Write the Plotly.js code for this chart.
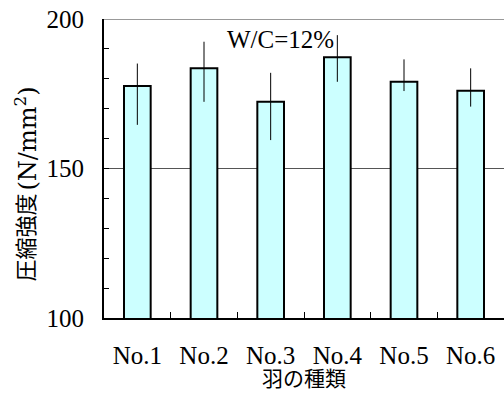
<!DOCTYPE html>
<html>
<head>
<meta charset="utf-8">
<script src="https://cdn.plot.ly/plotly-3.0.1.min.js"></script>
<style>
html,body{margin:0;padding:0;background:#fff;overflow:hidden;}
#chart{width:504px;height:394px;}
</style>
</head>
<body>
<div id="chart"></div>
<script>
// Data
const categories = ['No.1', 'No.2', 'No.3', 'No.4', 'No.5', 'No.6'];
const strength   = [177.6, 183.5, 172.3, 187.2, 179.0, 176.0];
const maxValues  = [185.1, 192.4, 182.0, 194.6, 186.5, 183.5];
const minValues  = [164.6, 172.3, 159.5, 179.0, 175.9, 170.7];
const yTickVals  = [100, 150, 200];
const yTickText  = ['100', '150', '200'];
const noteText   = 'W/C=12%';
const xTitleText = '羽の種類';
const yTitleKanji = '圧縮強度';
const yTitleUnit  = '(N/mm<sup>2</sup>)';

const errPlus  = strength.map((v, i) => maxValues[i] - v);
const errMinus = strength.map((v, i) => v - minValues[i]);

const serif = 'Liberation Serif';
const gothic = 'Noto Sans CJK JP';

const trace = {
  type: 'bar',
  x: categories,
  y: strength,
  width: 0.4,
  marker: {color: '#ccffff', line: {color: '#000000', width: 2}},
  error_y: {
    type: 'data', symmetric: false,
    array: errPlus, arrayminus: errMinus,
    color: '#000000', thickness: 1, width: 0, visible: true
  },
  hoverinfo: 'skip'
};

const layout = {
  width: 504, height: 394,
  margin: {l: 104, r: 0, t: 19, b: 76, pad: 0},
  paper_bgcolor: '#ffffff', plot_bgcolor: '#ffffff',
  showlegend: false,
  xaxis: {
    type: 'category',
    range: [-0.5, 5.5],
    showline: true, linecolor: '#000000', linewidth: 2,
    ticks: 'inside', tickson: 'boundaries', ticklen: 6, tickwidth: 1, tickcolor: '#000000',
    showgrid: false, zeroline: false,
    tickfont: {family: serif, size: 25, color: '#000000'},
    ticklabelstandoff: 14
  },
  yaxis: {
    range: [100, 200],
    tickmode: 'array', tickvals: yTickVals, ticktext: yTickText,
    showline: true, linecolor: '#000000', linewidth: 2,
    ticks: 'inside', ticklen: 5, tickwidth: 1, tickcolor: '#000000',
    showgrid: true, gridcolor: '#555555', gridwidth: 1,
    zeroline: false,
    minor: {dtick: 10, tick0: 100, ticks: 'inside', ticklen: 5, tickwidth: 1, tickcolor: '#000000', showgrid: false},
    tickfont: {family: serif, size: 25, color: '#000000'},
    ticklabelstandoff: 13
  },
  shapes: [
    {type: 'line', xref: 'paper', yref: 'y', x0: 0, x1: 1, y0: 200, y1: 200,
     line: {color: '#777777', width: 1.5}}
  ],
  annotations: [
    {
      text: noteText, xref: 'paper', yref: 'y', x: 0.44, y: 193,
      xanchor: 'center', yanchor: 'middle', showarrow: false,
      font: {family: serif, size: 25, color: '#000000'}
    },
    {
      text: xTitleText, xref: 'paper', yref: 'paper', x: 0.5, y: -0.2542,
      xanchor: 'center', yanchor: 'bottom', showarrow: false,
      font: {family: gothic, size: 21, color: '#000000'}
    },
    {
      text: yTitleKanji,
      xref: 'paper', yref: 'paper', x: 0, xshift: -81, y: (318 - 237.5) / 299,
      xanchor: 'center', yanchor: 'middle', showarrow: false, textangle: -90,
      font: {family: gothic, size: 22, color: '#000000'}
    },
    {
      text: yTitleUnit,
      xref: 'paper', yref: 'paper', x: 0, xshift: -79, y: (318 - 138.5) / 299,
      xanchor: 'center', yanchor: 'middle', showarrow: false, textangle: -90,
      font: {family: 'DejaVu Serif', size: 24, color: '#000000'}
    }
  ]
};

Plotly.newPlot('chart', [trace], layout, {staticPlot: true, displayModeBar: false});
</script>
</body>
</html>
